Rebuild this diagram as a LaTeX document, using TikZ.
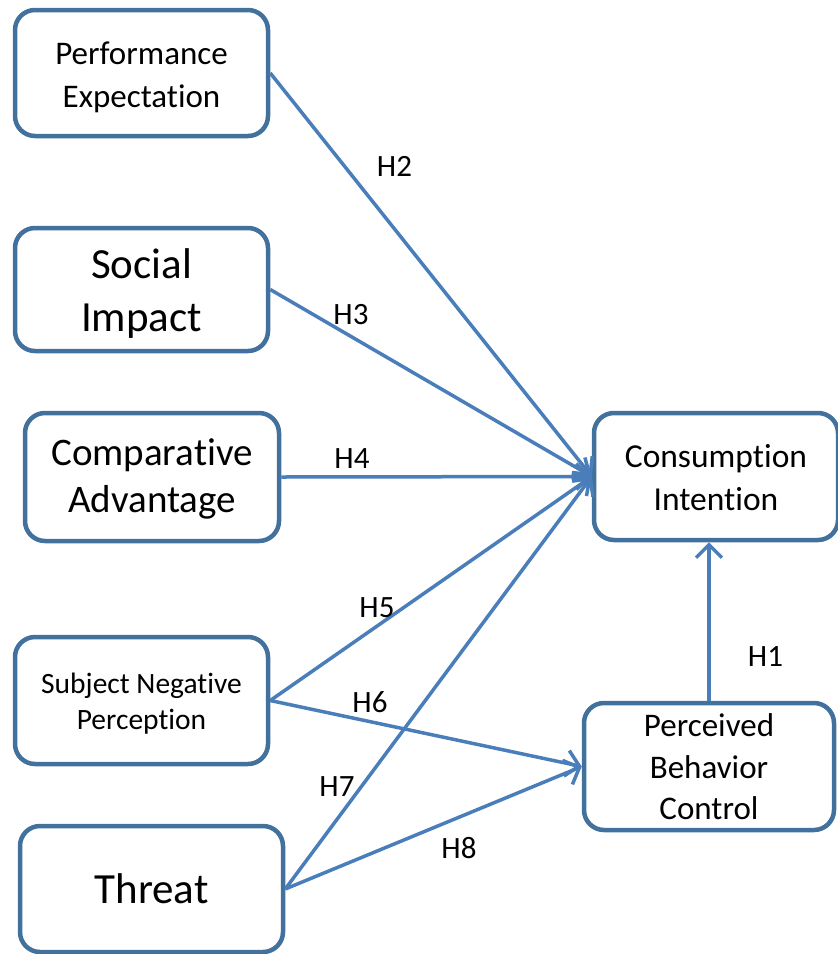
\documentclass[tikz,border=0pt]{standalone}
\usepackage{fontspec}
\setmainfont{Carlito}[Ligatures=NoCommon,RawFeature={-liga;-clig;-dlig;-calt;-rlig}]
\usetikzlibrary{arrows.meta}
\definecolor{boxblue}{RGB}{65,113,156}
\definecolor{arrblue}{RGB}{74,126,187}
\newcommand{\lowtext}[2]{\raisebox{-#1}[\height][\depth]{\begin{tabular}{@{}c@{}}#2\end{tabular}}}
\newcommand{\tii}{t\kern0pt i}
\begin{document}
\begin{tikzpicture}[x=1pt,y=-1pt,
  box/.style={draw=boxblue, line width=4.5pt, rounded corners=20pt, fill=white, inner sep=0pt},
  link/.style={draw=arrblue, line width=3.5pt, -{Straight Barb[length=13pt,width=26pt]}},
  hlab/.style={font=\fontsize{31}{33}\selectfont, inner sep=0pt}]
\useasboundingbox (0,0) rectangle (838,954);
\node[box, minimum width=253pt, minimum height=126pt, font=\fontsize{33}{43}\selectfont] (pe) at (141.5,73) {\lowtext{4pt}{Performance\\Expecta\tii on}};
\node[box, minimum width=253pt, minimum height=123pt, font=\fontsize{43}{53}\selectfont] (si) at (141.5,289.5) {\lowtext{5pt}{Social\\Impact}};
\node[box, minimum width=254pt, minimum height=128pt, font=\fontsize{39}{47}\selectfont] (ca) at (152,477) {\lowtext{3pt}{Compara\tii ve\\Advantage}};
\node[box, minimum width=253pt, minimum height=127pt, font=\fontsize{29.5}{36}\selectfont] (snp) at (141.5,700.5) {\lowtext{4pt}{Subject Nega\tii ve\\Percep\tii on}};
\node[box, minimum width=263pt, minimum height=126pt, font=\fontsize{43}{53}\selectfont] (th) at (151.5,889) {\lowtext{4pt}{Threat}};
\node[box, minimum width=244pt, minimum height=127pt, font=\fontsize{33.5}{43}\selectfont] (ci) at (716,476.5) {\lowtext{4pt}{Consump\tii on\\Inten\tii on}};
\node[box, minimum width=250pt, minimum height=127pt, font=\fontsize{33}{41.5}\selectfont] (pbc) at (709,766.5) {\lowtext{3.5pt}{Perceived\\Behavior\\Control}};

\draw[link] (pe.east) -- (ci.west);
\draw[link] (si.east) -- (ci.west);
\draw[link] (ca.east) -- (ci.west);
\draw[link] (snp.east) -- (ci.west);
\draw[link] (th.east) -- (ci.west);
\draw[link] (snp.east) -- (pbc.west);
\draw[link] (th.east) -- (pbc.west);
\draw[link] (pbc.north) -- (pbc.north |- ci.south);

\node[hlab] (h2) at (394.5,166) {H2};
\node[hlab] (h3) at (351,315) {H3};
\node[hlab] (h4) at (352,459) {H4};
\node[hlab] (h5) at (377,608) {H5};
\node[hlab] (h6) at (370,702) {H6};
\node[hlab] (h7) at (337,787) {H7};
\node[hlab] (h8) at (459,848) {H8};
\node[hlab] (h1) at (765.5,657) {H1};
\end{tikzpicture}
\end{document}
